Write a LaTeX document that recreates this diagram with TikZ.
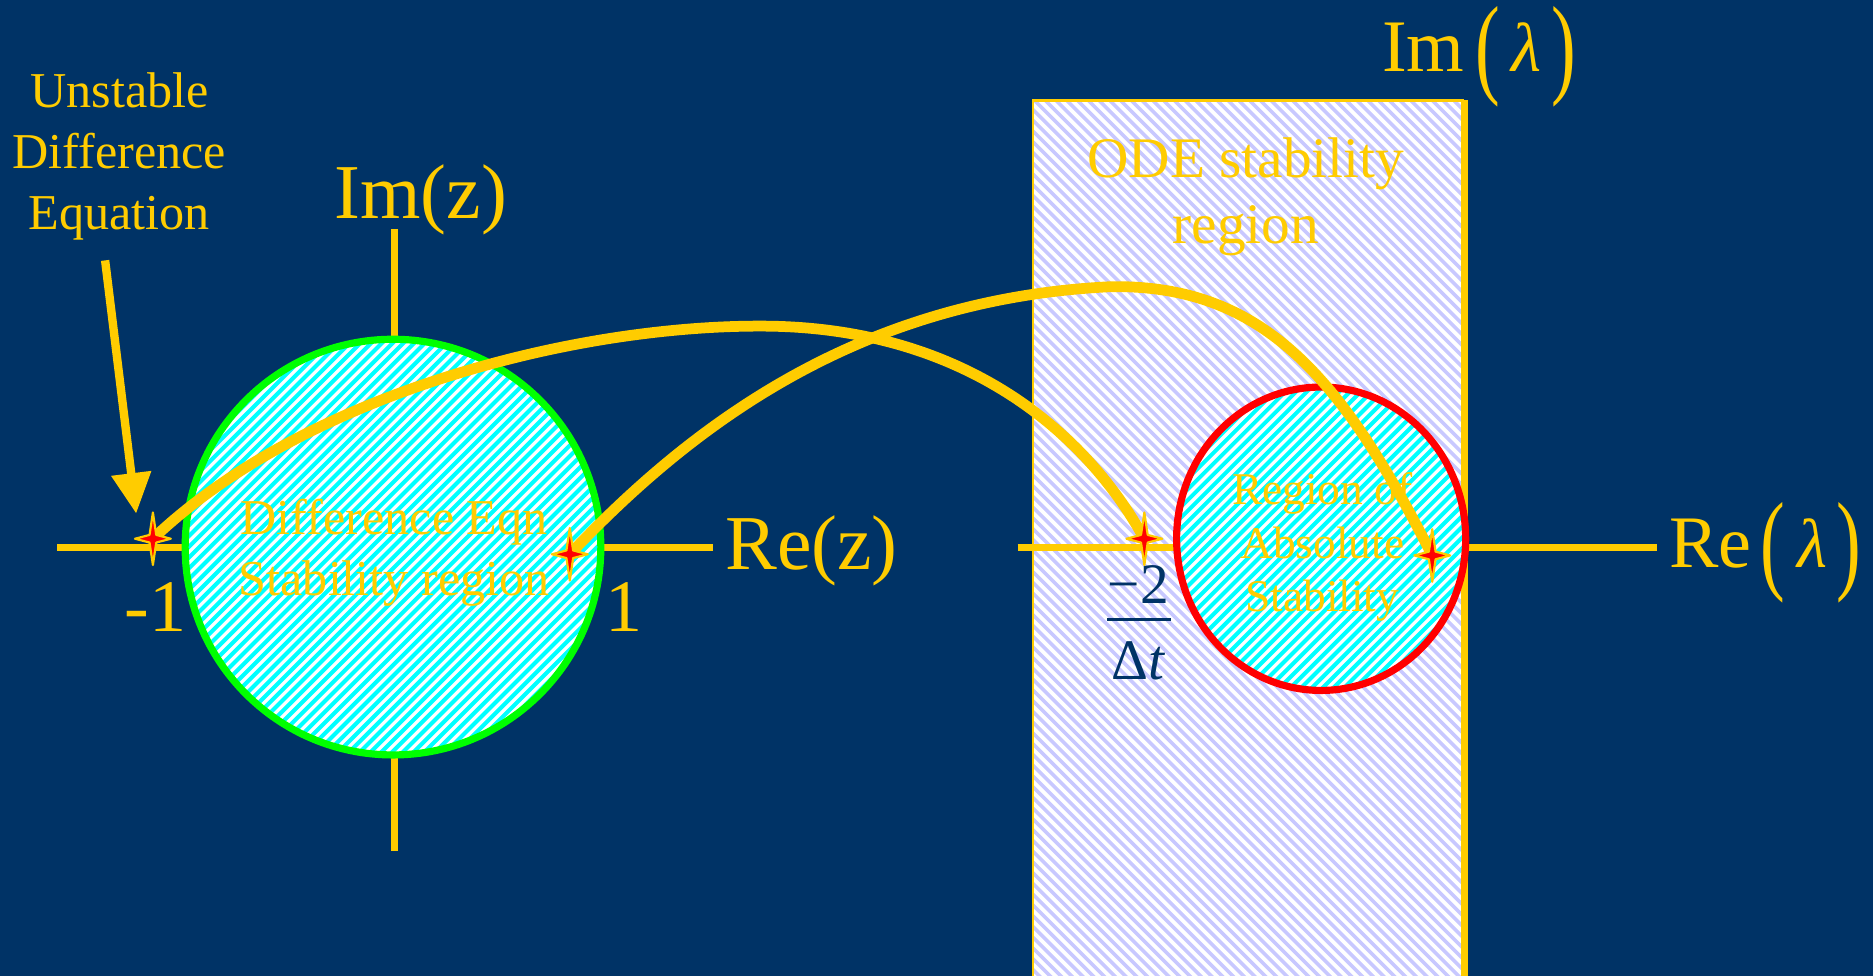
\documentclass[tikz,border=0pt]{standalone}
\usepackage{fontspec}
\setmainfont{Liberation Serif}
\usetikzlibrary{arrows.meta}
\definecolor{navy}{HTML}{003366}
\definecolor{yel}{HTML}{FFCC00}
\definecolor{lav}{HTML}{C8C8FF}
\definecolor{grn}{HTML}{00FF00}
\definecolor{cyn}{HTML}{00FFFF}
\newcommand{\tallparen}[1]{\raisebox{-0.16em}{\scalebox{1.0}[1.5]{#1}}}
\tikzset{
  lbl/.style={text=yel, inner sep=0pt},
  axisline/.style={draw=yel, line width=6pt},
  mapcurve/.style={draw=yel, line width=9pt},
  cyanstripe/.style={draw=cyn, line width=3.4pt},
  lavstripe/.style={draw=lav, line width=3pt},
  starmark/.pic={
    \filldraw[fill=red, draw=yel, line width=1.8pt, line join=round]
      (0,-22) -- (2.8,-3.2) -- (15,0) -- (2.8,3.2) -- (0,22) -- (-2.8,3.2) -- (-15,0) -- (-2.8,-3.2) -- cycle;
  },
}
\begin{document}
\begin{tikzpicture}[x=1pt, y=-1pt]
\clip (0,0) rectangle (1568,817);
\fill[navy] (0,0) rectangle (1568,817);

% coordinates
\coordinate (lx1) at (48,458);
\coordinate (lx2) at (597,458);
\coordinate (ly1) at (330,192);
\coordinate (ly2) at (330,712);
\coordinate (rx1) at (852,458);
\coordinate (rx2) at (1387,458);
\coordinate (ry1) at (1226,84);
\coordinate (ry2) at (1226,830);
\coordinate (s1) at (128,451);
\coordinate (s2) at (477,464);
\coordinate (s3) at (958,451);
\coordinate (s4) at (1199,465);
\coordinate (atail) at (88,218);
\coordinate (atip) at (114,430);

% ODE stability region (left half-plane)
\fill[white] (865,84) rectangle (1226,830);
\begin{scope}
  \clip (865,84) rectangle (1226,830);
  \foreach \xs in {100,109,...,1250} {
    \draw[lavstripe] (\xs,74) -- ++(770,770);
  }
\end{scope}
\draw[yel, line width=2pt] (865,830) -- (865,84) -- (1226,84);
\draw[axisline] (ry1) -- (ry2);
\draw[axisline] (rx1) -- (rx2);

% z-plane axes
\draw[axisline] (lx1) -- (lx2);
\draw[axisline] (ly1) -- (ly2);

% green unit circle
\fill[white] (329,458) circle[radius=174];
\begin{scope}
  \clip (329,458) circle[radius=174];
  \foreach \k in {-378,-369,...,380} {
    \draw[cyanstripe] (329+\k-190,458+190) -- ++(380,-380);
  }
\end{scope}
\draw[grn, line width=6pt] (329,458) circle[radius=174];

% red circle
\fill[white] (1106,451) ellipse[x radius=121, y radius=127];
\begin{scope}
  \clip (1106,451) ellipse[x radius=121, y radius=127];
  \foreach \k in {-270,-261,...,270} {
    \draw[cyanstripe] (1106+\k-140,451+140) -- ++(280,-280);
  }
\end{scope}
\draw[red, line width=6pt] (1106,451) ellipse[x radius=121, y radius=127];

% region texts
\node[lbl, align=center, font=\fontsize{42}{51}\selectfont] (deq) at (330,463) {Difference Eqn\\Stability region};
\node[lbl, align=center, font=\fontsize{48}{55}\selectfont] (ode) at (1043,165) {ODE stability\\region};
\node[lbl, align=center, font=\fontsize{38}{45}\selectfont] (ras) at (1107,458) {Region of\\Absolute\\Stability};

% mapping curves
\draw[mapcurve] (s1) .. controls (255,330) and (480,272) .. (640,273)
                     .. controls (800,274) and (905,355) .. (s3);
\draw[mapcurve] (s2) .. controls (580,355) and (720,250) .. (930,240)
                     .. controls (1060,238) and (1125,320) .. (s4);

% stars
\pic at (s1) {starmark};
\pic at (s2) {starmark};
\pic at (s3) {starmark};
\pic at (s4) {starmark};

% labels
\node[lbl, align=center, font=\fontsize{42}{51}\selectfont] (unst) at (100,131) {Unstable\\Difference\\Equation};
\draw[yel, line width=7pt, -{Triangle[width=32pt,length=34pt]}] (atail) -- (atip);

\node[lbl, anchor=base west, font=\fontsize{65}{70}\selectfont] (imz) at (280,183) {Im(z)};
\node[lbl, anchor=base west, font=\fontsize{65}{70}\selectfont] (rez) at (607,477) {Re(z)};
\node[lbl, anchor=base, font=\fontsize{62}{66}\selectfont] (m1) at (130,529) {-1};
\node[lbl, anchor=base, font=\fontsize{62}{66}\selectfont] (p1) at (522,529) {1};

\node[lbl, anchor=base west, font=\fontsize{62}{66}\selectfont] (iml) at (1157,60)
  {Im\hspace{9pt}\tallparen{(}\hspace{10pt}{\itshape\fontsize{58}{62}\selectfont λ}\hspace{8pt}\tallparen{)}};
\node[lbl, anchor=base west, font=\fontsize{62}{66}\selectfont] (rel) at (1397,475)
  {Re\hspace{8pt}\tallparen{(}\hspace{10pt}{\itshape\fontsize{58}{62}\selectfont λ}\hspace{8pt}\tallparen{)}};

% -2 / Delta t
\node[text=navy, inner sep=0pt, font=\fontsize{48}{52}\selectfont] (num) at (953,489) {−2};
\node[text=navy, inner sep=0pt, font=\fontsize{48}{52}\selectfont] (den) at (953,553) {Δ\textit{t}};
\draw[navy, line width=2.5pt] (927,519) -- (980,519);
\end{tikzpicture}
\end{document}
